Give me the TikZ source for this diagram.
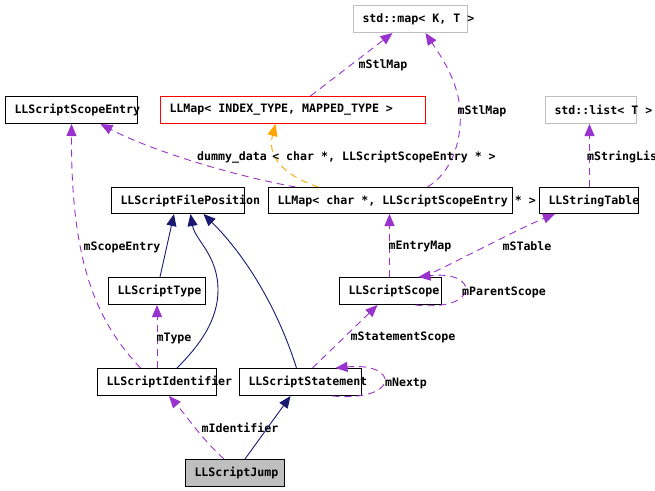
\documentclass[tikz,border=0pt]{standalone}
\usepackage{fontspec}
\setmainfont{DejaVu Sans Mono}
\usetikzlibrary{arrows.meta}
\definecolor{edgeblue}{HTML}{191970}
\definecolor{edgepurple}{HTML}{9A32CD}
\definecolor{edgeorange}{HTML}{FFA500}
\definecolor{nodegray}{HTML}{BFBFBF}
\newcommand\cbox[2]{\makebox[#1][l]{\hspace*{9pt}#2}}
\begin{document}
\begin{tikzpicture}[x=1pt,y=-1pt,
  font=\fontsize{11.6}{13}\selectfont\bfseries,
  cls/.style={draw=black, line width=1pt, inner sep=0pt, anchor=north west, minimum height=27pt},
  tmplcls/.style={cls, draw=red},
  extcls/.style={cls, draw=nodegray},
  focus/.style={cls, fill=nodegray},
  elabel/.style={inner sep=0pt},
  tip/.style={-{Triangle[length=12pt,width=10pt]}},
  usage/.style={tip, draw=edgepurple, line width=0.9pt, dash pattern=on 7pt off 5pt},
  inherit/.style={tip, draw=edgeblue, line width=0.9pt},
  tinst/.style={tip, draw=edgeorange, line width=0.9pt, dash pattern=on 7pt off 5pt}]
\useasboundingbox (0,0) rectangle (655,490);
\clip (0,0) rectangle (655,490);
\fill[white] (0,0) rectangle (655,490);

% nodes
\node[extcls, minimum width=114pt] (map) at (353,5) {\cbox{114pt}{std::map< K, T >}};
\node[cls, minimum width=132pt] (sse) at (5,96) {\cbox{132pt}{LLScriptScopeEntry}};
\node[tmplcls, minimum width=265pt] (llmapT) at (160,96) {\cbox{265pt}{LLMap< INDEX\_TYPE, MAPPED\_TYPE >}};
\node[extcls, minimum width=91pt] (list) at (545,96) {\cbox{91pt}{std::list< T >}};
\node[cls, minimum width=133pt, minimum height=26pt] (sfp) at (111,187) {\cbox{133pt}{LLScriptFilePosition}};
\node[cls, minimum width=244pt, minimum height=26pt] (llmapC) at (268,187) {\cbox{244pt}{LLMap< char *, LLScriptScopeEntry * >}};
\node[cls, minimum width=99pt, minimum height=26pt] (stab) at (539,187) {\cbox{99pt}{LLStringTable}};
\node[cls, minimum width=97pt] (stype) at (108,277) {\cbox{97pt}{LLScriptType}};
\node[cls, minimum width=102pt] (sscope) at (339,277) {\cbox{102pt}{LLScriptScope}};
\node[cls, minimum width=119pt] (sid) at (97,368) {\cbox{119pt}{LLScriptIdentifier}};
\node[cls, minimum width=122pt] (sstmt) at (239,368) {\cbox{122pt}{LLScriptStatement}};
\node[focus, minimum width=99pt] (sjump) at (185,459) {\cbox{99pt}{LLScriptJump}};

% edges
\draw[usage] ([xshift=17.5pt]llmapT.north) -- ([xshift=-18pt]map.south);
\node[elabel] (lstl1) at (383,65) {mStlMap};

\draw[usage] ([xshift=37pt]llmapC.north) .. controls (455,170) and (462,135) .. (460,110)
   .. controls (458,80) and (440,55) .. ([xshift=15pt]map.south);
\node[elabel] (lstl2) at (482,111) {mStlMap};

\draw[usage] ([xshift=-95pt]llmapC.north) .. controls (230,175) and (150,150) .. ([xshift=29pt]sse.south);
\node[elabel] (ldummy) at (232,157) {dummy\_data};

\draw[tinst] ([xshift=-72pt]llmapC.north) .. controls (290,178) and (266,160) .. ([xshift=-17.5pt]llmapT.south);
\node[elabel] (ltmpl) at (384,157) {< char *, LLScriptScopeEntry * >};

\draw[usage] ([xshift=-16.5pt]sid.north) .. controls (95,320) and (71,260) .. (sse.south);
\node[elabel] (lscope) at (122,247) {mScopeEntry};

\draw[inherit] ([xshift=3pt]stype.north) -- ([xshift=-4pt]sfp.south);
\draw[inherit] ([xshift=20pt]sid.north) .. controls (200,345) and (218,320) .. (218,290)
   .. controls (218,255) and (195,240) .. ([xshift=12.5pt]sfp.south);
\draw[inherit] ([xshift=-4pt]sstmt.north) .. controls (275,300) and (240,250) .. ([xshift=25.5pt]sfp.south);

\draw[usage] (sid.north) -- (stype.south);
\node[elabel] (ltype) at (174,338) {mType};

\draw[usage] ([xshift=-11pt]sjump.north) .. controls (200,437) and (190,420) .. ([xshift=12pt]sid.south);
\node[elabel] (lident) at (240,428) {mIdentifier};

\draw[inherit] ([xshift=10pt]sjump.north) -- ([xshift=-10pt]sstmt.south);

\draw[usage] ([xshift=32pt]sstmt.south) .. controls (400,402) and (400,362) .. ([xshift=35pt]sstmt.north);
\node[elabel] (lnext) at (406,383) {mNextp};

\draw[usage] ([xshift=25pt]sscope.south) .. controls (480,312) and (480,270) .. ([xshift=28pt]sscope.north);
\node[elabel] (lparent) at (504,292) {mParentScope};

\draw[usage] ([xshift=12pt]sstmt.north) -- ([xshift=-13pt]sscope.south);
\node[elabel] (lstmtscope) at (403,337) {mStatementScope};

\draw[usage] ([xshift=-1pt]sscope.north) -- ([xshift=-1pt]llmapC.south);
\node[elabel] (lentry) at (420,246) {mEntryMap};

\draw[usage] ([xshift=33pt]sscope.north) .. controls (470,255) and (520,228) .. ([xshift=-34pt]stab.south);
\node[elabel] (lstable) at (527,246) {mSTable};

\draw[usage] ([xshift=0.5pt]stab.north) -- ([xshift=-1.5pt]list.south);
\node[elabel, anchor=west] (lstrlist) at (587,157) {mStringList};
\end{tikzpicture}
\end{document}
